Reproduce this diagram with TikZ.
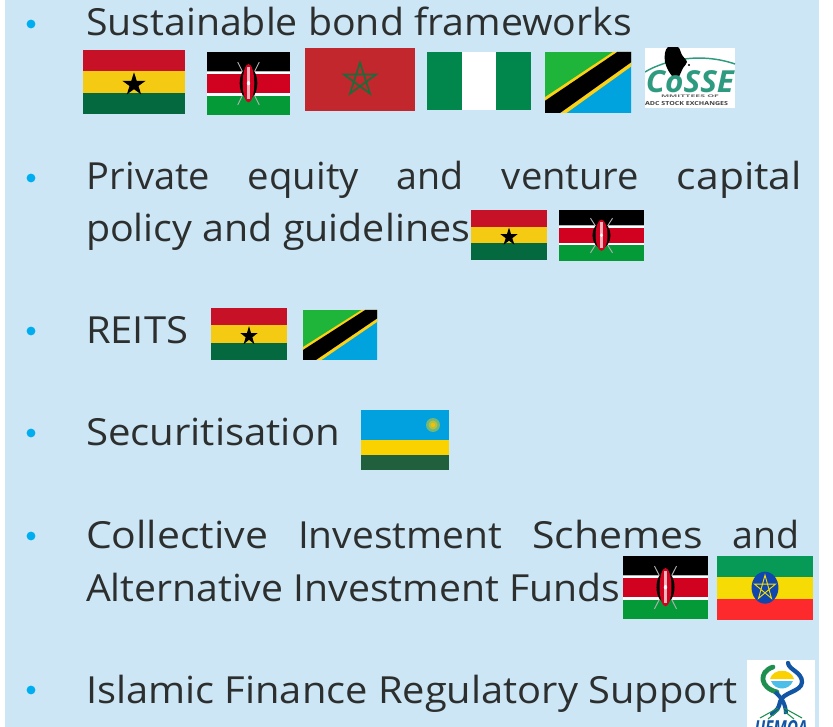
\documentclass[tikz,border=0pt]{standalone}
\usepackage{graphicx}
\usepackage{fontspec}
\setmainfont{Open Sans}
\definecolor{panel}{HTML}{CCE6F6}
\definecolor{ink}{HTML}{2C2F2E}
\definecolor{dot}{HTML}{00AEEF}
\definecolor{gred}{HTML}{C61126}
\definecolor{gyel}{HTML}{F4CB12}
\definecolor{ggrn}{HTML}{04693E}
\definecolor{kred}{HTML}{D0021F}
\definecolor{kgrn}{HTML}{049A38}
\definecolor{mred}{HTML}{C1272D}
\definecolor{mgrn}{HTML}{1E6B3A}
\definecolor{ngrn}{HTML}{01874B}
\definecolor{tgrn}{HTML}{1EB53A}
\definecolor{tblu}{HTML}{00A3DD}
\definecolor{tyel}{HTML}{FCD116}
\definecolor{rblu}{HTML}{00A1DE}
\definecolor{ryel}{HTML}{FAD201}
\definecolor{rgrn}{HTML}{20603D}
\definecolor{egrn}{HTML}{079A56}
\definecolor{eyel}{HTML}{F7DB04}
\definecolor{ered}{HTML}{FC2A2D}
\definecolor{eblu}{HTML}{0F47AF}
\definecolor{cosse}{HTML}{2E9B80}
\definecolor{ublu}{HTML}{1255A5}
\definecolor{ugrn}{HTML}{1E8F4E}
\newlength{\pxu}\setlength{\pxu}{0.75pt}
\newcommand{\ww}[2]{\resizebox{#1\pxu}{\height}{#2}}
\tikzset{
  x=0.75pt,y=-0.75pt,
  lbl/.style={anchor=base west,inner sep=0pt,outer sep=0pt,text=ink,font=\fontsize{28}{34}\selectfont},
  bul/.style={circle,fill=dot,minimum size=6.6pt,inner sep=0pt,draw=none},
  logotext/.style={inner sep=0pt,outer sep=0pt},
}
\newcommand{\flagbox}[5]{\begin{scope}[shift={(#1,#2)},x={({(#3-#1)*0.75pt},0pt)},y={(0pt,{(#2-#4)*0.75pt})}]#5\end{scope}}
% five-pointed star: cx cy rx ry
\newcommand{\solidstar}[4]{plot[variable=\t,samples at={0,...,9}] ({#1+#3*(mod(\t,2)==0?1:0.382)*cos(90+36*\t)},{#2-#4*(mod(\t,2)==0?1:0.382)*sin(90+36*\t)}) -- cycle}
\newcommand{\pentagram}[4]{plot[variable=\t,samples at={0,...,4}] ({#1+#3*cos(90+144*\t)},{#2-#4*sin(90+144*\t)}) -- cycle}
\newcommand{\ghana}[4]{\flagbox{#1}{#2}{#3}{#4}{
  \fill[gred] (0,0) rectangle (1,1/3);
  \fill[gyel] (0,1/3) rectangle (1,2/3);
  \fill[ggrn] (0,2/3) rectangle (1,1);
  \fill[black] \solidstar{.5}{.54}{.12}{.19};}}
\newcommand{\kenya}[4]{\flagbox{#1}{#2}{#3}{#4}{
  \fill[white] (0,0) rectangle (1,1);
  \fill[black] (0,0) rectangle (1,.295);
  \fill[gray!60] (0,.295) rectangle (1,.32);
  \fill[kred] (0,.35) rectangle (1,.645);
  \fill[kgrn] (0,.695) rectangle (1,1);
  \draw[gray!60,line width=.7pt] (.37,.16)--(.63,.84) (.63,.16)--(.37,.84);
  \fill[black] (.5,.495) ellipse (.106 and .25);
  \fill[kred] (.5,.495) ellipse (.07 and .305);
  \fill[white!70!kred] (.485,.24) rectangle (.515,.75);
  \fill[white] (.5,.495) ellipse (.02 and .035);}}
\newcommand{\tanzania}[4]{\flagbox{#1}{#2}{#3}{#4}{
  \fill[tgrn] (0,0) rectangle (1,1);
  \fill[tblu] (1,0)--(1,1)--(0,1)--cycle;
  \fill[tyel] (0,.74)--(.79,0)--(1,0)--(1,.24)--(.25,1)--(0,1)--cycle;
  \fill[black] (0,.80)--(.84,0)--(1,0)--(1,.17)--(.175,1)--(0,1)--cycle;}}
\begin{document}
\begin{tikzpicture}
\useasboundingbox (0,0) rectangle (833,727);
\fill[white] (0,0) rectangle (833,727);
\fill[panel] (5,0) rectangle (819,727);

% bullets
\foreach \n/\yy in {a/24,b/178,c/331,d/433,e/536,f/690}
  \node[bul] (bul\n) at (31,\yy) {};

% text
\node[lbl] (t1) at (86,36) {\ww{546}{Sustainable bond frameworks}};
\node[lbl] (t2) at (87,190) {\hbox to 715\pxu{\ww{123}{Private}\hfill\ww{111}{equity}\hfill\ww{67}{and}\hfill\ww{137}{venture}\hfill\ww{125}{capital}}};
\node[lbl] (t3) at (86,242) {\ww{384}{policy and guidelines}};
\node[lbl] (t4) at (86,344) {\ww{102}{REITS}};
\node[lbl] (t5) at (86,446) {\ww{254}{Securitisation}};
\node[lbl] (t6) at (86,549) {\hbox to 714\pxu{\ww{182}{Collective}\hfill\ww{204}{Investment}\hfill\ww{171}{Schemes}\hfill\ww{67}{and}}};
\node[lbl] (t7) at (86,601) {\ww{534}{Alternative Investment Funds}};
\node[lbl] (t8) at (86,703) {\ww{652}{Islamic Finance Regulatory Support}};

% row 1 flags
\ghana{83}{50}{185}{114}
\kenya{207}{52}{290}{115}
% Morocco
\flagbox{305}{48}{415}{111.5}{
  \fill[mred] (0,0) rectangle (1,1);
  \draw[mgrn,line width=1.3pt,line join=miter] \pentagram{.5}{.5}{.155}{.27};}
% Nigeria
\flagbox{427}{52}{531}{110}{
  \fill[ngrn] (0,0) rectangle (1,1);
  \fill[white] (1/3,0) rectangle (2/3,1);}
\tanzania{545}{52}{631}{113}
% CoSSE logo
\fill[white] (645,48) rectangle (735,108);
\begin{scope}
  \clip (645,48) rectangle (735,108);
  \draw[cosse,line width=1.1pt] (645,72) .. controls (665,60) and (700,52) .. (735,64);
  \fill[black] plot[smooth cycle] coordinates {(665,53) (668,47) (678,47) (682,55) (687,62) (683,68) (678,78) (673,77) (668,70) (665,62)};
  \fill[black] (689,65) circle (1.1);
  \node[logotext,text=cosse,anchor=base] (cosseword) at (690,93) {\resizebox{88\pxu}{22\pxu}{\bfseries\itshape CoSSE}};
  \node[logotext,text=gray!80!black,anchor=base] (cossea) at (690,98) {\resizebox{58\pxu}{2.6\pxu}{\bfseries MMITTEES OF}};
  \node[logotext,text=black!75,anchor=base west] (cosseb) at (645,106) {\resizebox{83\pxu}{4\pxu}{\bfseries ADC STOCK EXCHANGES}};
\end{scope}

% row 2 flags
\ghana{471}{210}{547}{260}
\kenya{559}{210}{644}{261}
% row 3 flags
\ghana{211}{308}{287}{360}
\tanzania{303}{310}{377}{360}
% Rwanda
\flagbox{361}{410}{449}{470}{
  \fill[rblu] (0,0) rectangle (1,.5);
  \fill[ryel] (0,.5) rectangle (1,.75);
  \fill[rgrn] (0,.75) rectangle (1,1);}
\fill[rblu!55!ryel] (433,425) circle (7);
\fill[ryel!70!rblu] (433,425) circle (4.5);
\fill[ryel!90!red] (433,425) circle (2.2);
% row 5 flags
\kenya{623}{556}{708}{619}
% Ethiopia
\flagbox{717}{556}{813}{620}{
  \fill[egrn] (0,0) rectangle (1,1/3);
  \fill[eyel] (0,1/3) rectangle (1,2/3);
  \fill[ered] (0,2/3) rectangle (1,1);
  \fill[eblu] (.5,.495) ellipse (.14 and .25);
  \draw[eyel,line width=.7pt] \pentagram{.5}{.5}{.115}{.2};}
% UEMOA logo
\fill[white] (747,660) rectangle (815,727);
\begin{scope}
  \clip (747,660) rectangle (815,727);
  \fill[ryel] (770,679) .. controls (773,668) and (791,668) .. (794,679) -- cycle;
  \fill[tblu!70] (771,681) .. controls (775,691) and (789,691) .. (793,681) -- cycle;
  \draw[ugrn,line width=3.6pt,line cap=round] (773,667) .. controls (758,672) and (760,688) .. (777,692);
  \draw[ublu,line width=3.2pt,line cap=round] (788,663) .. controls (789,670) and (802,672) .. (802,682) .. controls (802,692) and (782,692) .. (780,702) .. controls (779,708) and (777,710) .. (772,714);
  \draw[ublu,line width=3pt] (775,692) .. controls (781,697) and (786,704) .. (786,714);
  \draw[ugrn,line width=.8pt] (778,708) -- (760,718) (779,710) -- (768,719) (784,708) -- (802,718) (784,711) -- (794,719);
  \node[logotext,text=ublu,anchor=base] (uemoaword) at (781,735) {\resizebox{53\pxu}{15\pxu}{\bfseries\itshape UEMOA}};
\end{scope}
\end{tikzpicture}
\end{document}
